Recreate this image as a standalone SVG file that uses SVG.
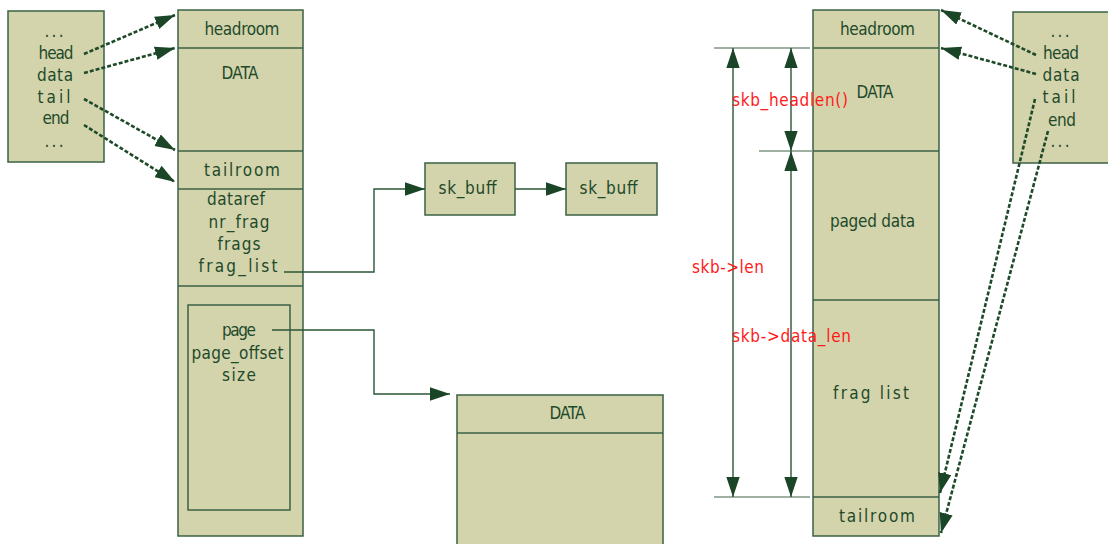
<svg xmlns="http://www.w3.org/2000/svg" width="1108" height="544" viewBox="0 0 1108 544">
<style>
.box{fill:#d3d3ac;stroke:#3b6145;stroke-width:1.5}
.sep{stroke:#3b6145;stroke-width:1.3;fill:none}
.t{font-family:"DejaVu Sans Condensed","DejaVu Sans",sans-serif;font-size:17px;fill:#1e4a2a;text-anchor:middle}
.r{font-family:"DejaVu Sans Condensed","DejaVu Sans",sans-serif;font-size:17px;fill:#ff1a1a}
.dash{stroke:#1e4a2a;stroke-width:2.6;stroke-dasharray:4 2;fill:none}
.solid{stroke:#2b5536;stroke-width:1.4;fill:none}
.dim{stroke:#7e9683;stroke-width:1.5;fill:none}
</style>
<defs>
<marker id="ah" markerUnits="userSpaceOnUse" markerWidth="20" markerHeight="14" viewBox="0 0 18 12" refX="18" refY="6" orient="auto-start-reverse">
<path d="M0,0 L18,6 L0,12 z" fill="#1b4527"/>
</marker>
</defs>

<g id="left-pointers">
<rect class="box" x="8" y="11" width="96" height="151"/>
<text class="t" x="54" y="37" textLength="19">...</text>
<text class="t" x="56" y="59" textLength="35">head</text>
<text class="t" x="55" y="81" textLength="36">data</text>
<text class="t" x="54" y="103" textLength="33">tail</text>
<text class="t" x="56" y="124" textLength="27">end</text>
<text class="t" x="54" y="147" textLength="19">...</text>
</g>

<g id="left-skb">
<rect class="box" x="178" y="10" width="125" height="526"/>
<line class="sep" x1="178" y1="48" x2="303" y2="48"/>
<line class="sep" x1="178" y1="151" x2="303" y2="151"/>
<line class="sep" x1="178" y1="189" x2="303" y2="189"/>
<line class="sep" x1="178" y1="286" x2="303" y2="286"/>
<text class="t" x="242" y="35" textLength="75">headroom</text>
<text class="t" x="240" y="79" textLength="37">DATA</text>
<text class="t" x="242" y="176" textLength="76">tailroom</text>
<text class="t" x="236" y="205" textLength="58">dataref</text>
<text class="t" x="239" y="228" textLength="61">nr_frag</text>
<text class="t" x="239" y="250" textLength="43">frags</text>
<text class="t" x="238" y="272" textLength="79">frag_list</text>
</g>

<g id="frag-box">
<rect class="box" x="188" y="305" width="102" height="205"/>
<text class="t" x="239" y="336" textLength="34">page</text>
<text class="t" x="237.5" y="359" textLength="92">page_offset</text>
<text class="t" x="239" y="381" textLength="34">size</text>
</g>

<g id="skbuff1">
<rect class="box" x="425" y="163" width="90" height="52"/>
<text class="t" x="467.5" y="194" textLength="58">sk_buff</text>
</g>
<g id="skbuff2">
<rect class="box" x="566" y="163" width="91" height="52"/>
<text class="t" x="608.5" y="194" textLength="58">sk_buff</text>
</g>

<g id="page-data">
<rect class="box" x="457" y="395" width="206" height="160"/>
<line class="sep" x1="457" y1="433" x2="663" y2="433"/>
<text class="t" x="567.5" y="419" textLength="36">DATA</text>
</g>

<g id="right-skb">
<rect class="box" x="813" y="10" width="126" height="526"/>
<line class="sep" x1="813" y1="48" x2="939" y2="48"/>
<line class="sep" x1="813" y1="151" x2="939" y2="151"/>
<line class="sep" x1="813" y1="300" x2="939" y2="300"/>
<line class="sep" x1="813" y1="497" x2="939" y2="497"/>
<text class="t" x="877.5" y="35" textLength="75">headroom</text>
<text class="t" x="875" y="98" textLength="37">DATA</text>
<text class="t" x="872.5" y="227" textLength="85">paged data</text>
<text class="t" x="871" y="399" textLength="76">frag list</text>
<text class="t" x="877" y="522" textLength="76">tailroom</text>
</g>

<g id="right-pointers">
<rect class="box" x="1013" y="12" width="100" height="151"/>
<text class="t" x="1060" y="37" textLength="19">...</text>
<text class="t" x="1061" y="59" textLength="36">head</text>
<text class="t" x="1061" y="81" textLength="37">data</text>
<text class="t" x="1059" y="103" textLength="33">tail</text>
<text class="t" x="1062" y="126" textLength="28">end</text>
<text class="t" x="1060" y="147" textLength="19">...</text>
</g>

<g id="connectors">
<line class="dash" x1="84" y1="54" x2="175" y2="15" marker-end="url(#ah)"/>
<line class="dash" x1="84" y1="73" x2="175" y2="48" marker-end="url(#ah)"/>
<line class="dash" x1="84" y1="99" x2="175" y2="150" marker-end="url(#ah)"/>
<line class="dash" x1="84" y1="125" x2="175" y2="182" marker-end="url(#ah)"/>
<polyline class="solid" points="284,272 374,272 374,189 425,189" marker-end="url(#ah)"/>
<line class="solid" x1="515" y1="189" x2="566" y2="189" marker-end="url(#ah)"/>
<polyline class="solid" points="272,330 374,330 374,394 450,394" marker-end="url(#ah)"/>
<line class="dash" x1="1036" y1="55" x2="941" y2="10" marker-end="url(#ah)"/>
<line class="dash" x1="1036" y1="74" x2="941" y2="48" marker-end="url(#ah)"/>
<line class="dash" x1="1035" y1="99" x2="940" y2="493" marker-end="url(#ah)"/>
<line class="dash" x1="1048" y1="131" x2="941" y2="533" marker-end="url(#ah)"/>
<line class="dim" x1="714" y1="48" x2="810" y2="48"/>
<line class="dim" x1="759" y1="151" x2="813" y2="151"/>
<line class="dim" x1="714" y1="497" x2="810" y2="497"/>
<line class="solid" x1="733" y1="48" x2="733" y2="497" marker-start="url(#ah)" marker-end="url(#ah)"/>
<line class="solid" x1="791" y1="48" x2="791" y2="151" marker-start="url(#ah)" marker-end="url(#ah)"/>
<line class="solid" x1="791" y1="151" x2="791" y2="497" marker-start="url(#ah)" marker-end="url(#ah)"/>
</g>

<g id="labels">
<text class="r" x="732" y="106" textLength="116">skb_headlen()</text>
<text class="r" x="692" y="273" textLength="72">skb-&gt;len</text>
<text class="r" x="732" y="342" textLength="119">skb-&gt;data_len</text>
</g>
</svg>
